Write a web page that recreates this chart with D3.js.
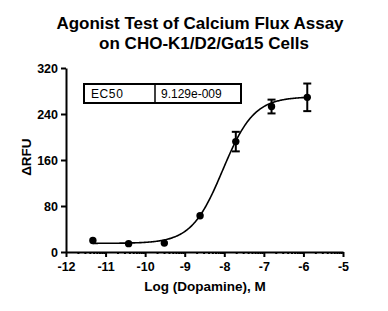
<!DOCTYPE html>
<html>
<head>
<meta charset="utf-8">
<script src="https://cdn.jsdelivr.net/npm/d3@7"></script>
<style>
  body { margin: 0; background: #fff; }
  svg { display: block; font-family: "Liberation Sans", Arial, sans-serif; }
  .axis path, .axis line { stroke: #000; stroke-width: 2; }
  .axis text { font-size: 12.5px; font-weight: bold; fill: #000; }
</style>
</head>
<body>
<div id="chart"></div>
<script>
// data
const logDose = [-11.321, -10.418, -9.515, -8.612, -7.709, -6.806, -5.903];
const rfuMean = [20, 14.5, 15.5, 63, 192, 253, 269];
const rfuSem = [0, 0, 0, 0, 17, 12, 24];

// 4PL fit parameters
const fitBottom = 15;
const fitTop = 270;
const fitHill = 1.1;
const ec50 = 9.129e-9;

const xTicks = [-12, -11, -10, -9, -8, -7, -6, -5];
const yTicks = [0, 80, 160, 240, 320];

const width = 388, height = 311;
const margin = { top: 68, right: 45, bottom: 59, left: 66 };

const svg = d3.select('#chart').append('svg')
  .attr('width', width)
  .attr('height', height);

const x = d3.scaleLinear().domain([-12, -5]).range([margin.left, width - margin.right]);
const y = d3.scaleLinear().domain([0, 320]).range([height - margin.bottom, margin.top]);

// title
const title = svg.append('text')
  .attr('text-anchor', 'middle')
  .style('font-size', '17px')
  .style('font-weight', 'bold');
title.append('tspan').attr('x', 200).attr('y', 29).text('Agonist Test of Calcium Flux Assay');
title.append('tspan').attr('x', 204).attr('y', 49).text('on CHO-K1/D2/G\u03b115 Cells');

// minor log ticks in each decade
const minorTicks = [];
for (let n = -12; n < -5; n++) {
  for (let k = 2; k <= 9; k++) minorTicks.push(n + Math.log10(k));
}

svg.append('g')
  .attr('class', 'axis')
  .attr('transform', `translate(0,${y(0)})`)
  .call(d3.axisBottom(x).tickValues(minorTicks).tickSize(2).tickFormat(''))
  .call(g => g.select('.domain').remove());

svg.append('g')
  .attr('class', 'axis')
  .attr('transform', `translate(0,${y(0)})`)
  .call(d3.axisBottom(x).tickValues(xTicks).tickSize(5).tickSizeOuter(0).tickPadding(5)
    .tickFormat(d => String(d)));

svg.append('g')
  .attr('class', 'axis')
  .attr('transform', `translate(${x(-12)},0)`)
  .call(d3.axisLeft(y).tickValues(yTicks).tickSize(5).tickSizeOuter(0).tickPadding(3));

// axis titles
svg.append('text')
  .attr('x', 205)
  .attr('y', 291)
  .attr('text-anchor', 'middle')
  .style('font-size', '13.5px')
  .style('font-weight', 'bold')
  .text('Log (Dopamine), M');

svg.append('text')
  .attr('transform', `translate(31,${y(165)}) rotate(-90)`)
  .attr('text-anchor', 'middle')
  .style('font-size', '13.5px')
  .style('font-weight', 'bold')
  .text('\u0394RFU');

// fitted curve
const logEc50 = Math.log10(ec50);
const curveX = d3.range(logDose[0], logDose[logDose.length - 1] + 0.001, 0.02);
const line = d3.line()
  .x(d => x(d))
  .y(d => y(fitBottom + (fitTop - fitBottom) / (1 + Math.pow(10, (logEc50 - d) * fitHill))));

svg.append('path')
  .datum(curveX)
  .attr('fill', 'none')
  .attr('stroke', '#000')
  .attr('stroke-width', 1.6)
  .attr('d', line);

// error bars
const pts = logDose.map((d, i) => ({ x: d, y: rfuMean[i], e: rfuSem[i] }));
const bars = svg.append('g')
  .selectAll('g')
  .data(pts.filter(d => d.e > 0))
  .join('g')
  .attr('stroke', '#000')
  .attr('stroke-width', 2);
bars.append('line')
  .attr('x1', d => x(d.x)).attr('x2', d => x(d.x))
  .attr('y1', d => y(d.y - d.e)).attr('y2', d => y(d.y + d.e));
bars.append('line')
  .attr('x1', d => x(d.x) - 4).attr('x2', d => x(d.x) + 4)
  .attr('y1', d => y(d.y + d.e)).attr('y2', d => y(d.y + d.e));
bars.append('line')
  .attr('x1', d => x(d.x) - 4).attr('x2', d => x(d.x) + 4)
  .attr('y1', d => y(d.y - d.e)).attr('y2', d => y(d.y - d.e));

// points
svg.append('g')
  .selectAll('circle')
  .data(pts)
  .join('circle')
  .attr('cx', d => x(d.x))
  .attr('cy', d => y(d.y))
  .attr('r', 3.7)
  .attr('fill', '#000');

// EC50 box
const box = svg.append('g');
box.append('rect')
  .attr('x', 84).attr('y', 84).attr('width', 157).attr('height', 19)
  .attr('fill', 'none').attr('stroke', '#000').attr('stroke-width', 2);
box.append('line')
  .attr('x1', 155).attr('x2', 155).attr('y1', 84).attr('y2', 103)
  .attr('stroke', '#000').attr('stroke-width', 1.5);
box.append('text').attr('x', 91).attr('y', 98).style('font-size', '12px')
  .style('letter-spacing', '0.6px').text('EC50');
box.append('text').attr('x', 161).attr('y', 98).style('font-size', '12px').text('9.129e-009');
</script>
</body>
</html>
